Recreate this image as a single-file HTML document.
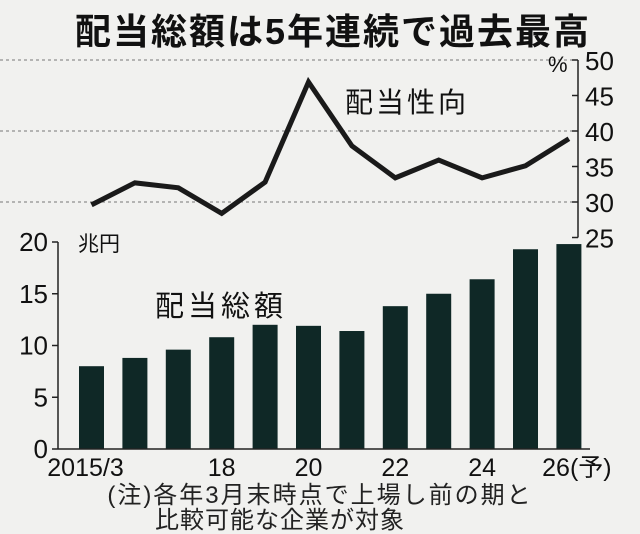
<!DOCTYPE html>
<html><head><meta charset="utf-8"><style>
body{margin:0;background:#f1f1ef;}
svg{display:block;font-family:"Liberation Sans","Noto Sans CJK JP",sans-serif;}
</style></head><body>
<svg id="c" width="640" height="534" viewBox="0 0 640 534">
<rect width="640" height="534" fill="#f1f1ef"/>
<text x="333" y="44" font-size="36" font-weight="bold" text-anchor="middle" letter-spacing="2" fill="#111">配当総額は5年連続で過去最高</text>
<g id="g"></g>
<text x="345" y="112" font-size="28" letter-spacing="3" fill="#111">配当性向</text>
<text x="155" y="316" font-size="29" letter-spacing="4" fill="#111">配当総額</text>
<text x="78" y="251" font-size="21" fill="#111">兆円</text>
<text x="548" y="72" font-size="22" fill="#111">%</text>
<text x="320" y="503" font-size="24" text-anchor="middle" letter-spacing="2" fill="#222">(注)各年3月末時点で上場し前の期と</text>
<text x="280" y="528" font-size="24" text-anchor="middle" letter-spacing="1" fill="#222">比較可能な企業が対象</text>
</svg>
<script>
const categories=["2015/3","16","17","18","19","20","21","22","23","24","25","26(予)"];
const xTickLabels=["2015/3","","","18","","20","","22","","24","","26(予)"];
const dividendTotal=[8.0,8.8,9.6,10.8,12.0,11.9,11.4,13.8,15.0,16.4,19.3,19.8];
const payoutRatio=[29.6,32.7,32.0,28.4,32.8,46.9,37.9,33.4,35.9,33.4,35.1,38.9];
const leftTicks=[0,5,10,15,20];
const rightTicks=[25,30,35,40,45,50];
const gridTicks=[30,40,50];
const NS="http://www.w3.org/2000/svg";
const g=document.getElementById("g");
function mk(t,a){const e=document.createElementNS(NS,t);for(const k in a)e.setAttribute(k,a[k]);g.appendChild(e);return e;}
const xC=i=>91.5+i*43.4;
const yL=v=>449-v*10.35;
const yR=p=>60+(50-p)*7.1;
gridTicks.forEach(p=>{const e=mk("line",{x1:0,x2:578,y1:yR(p),y2:yR(p),stroke:"#777","stroke-width":1,"stroke-dasharray":"3,3"});

});
dividendTotal.forEach((v,i)=>{const e=mk("rect",{x:xC(i)-12.5,y:yL(v),width:25,height:yL(0)-yL(v),fill:"#0f2826"});

});
let e=mk("line",{x1:58,x2:58,y1:yL(20),y2:yL(0),stroke:"#222","stroke-width":1.5});


e=mk("line",{x1:58,x2:590,y1:yL(0),y2:yL(0),stroke:"#222","stroke-width":1.5});


leftTicks.forEach(v=>{let t=mk("line",{x1:52,x2:58,y1:yL(v),y2:yL(v),stroke:"#222","stroke-width":1.5});


let l=mk("text",{x:48,y:yL(v)+9,"font-size":26,"text-anchor":"end",fill:"#111"});l.textContent=v;

});
xTickLabels.forEach((s,i)=>{if(!s)return;let l=mk("text",{x:xC(i)-(i==0?6:0)+(i==11?8:0),y:476,"font-size":25,"text-anchor":"middle",fill:"#111"});l.textContent=s;

});
e=mk("line",{x1:578,x2:578,y1:yR(50),y2:yR(25),stroke:"#222","stroke-width":1.5});


rightTicks.forEach(p=>{let t=mk("line",{x1:572,x2:578,y1:yR(p),y2:yR(p),stroke:"#222","stroke-width":1.5});


let l=mk("text",{x:585,y:yR(p)+10,"font-size":26,fill:"#111"});l.textContent=p;

});
const pts=payoutRatio.map((p,i)=>xC(i)+","+yR(p)).join(" ");
e=mk("polyline",{points:pts,fill:"none",stroke:"#1a1a1a","stroke-width":5,"stroke-linejoin":"miter"});


</script>
</body></html>
